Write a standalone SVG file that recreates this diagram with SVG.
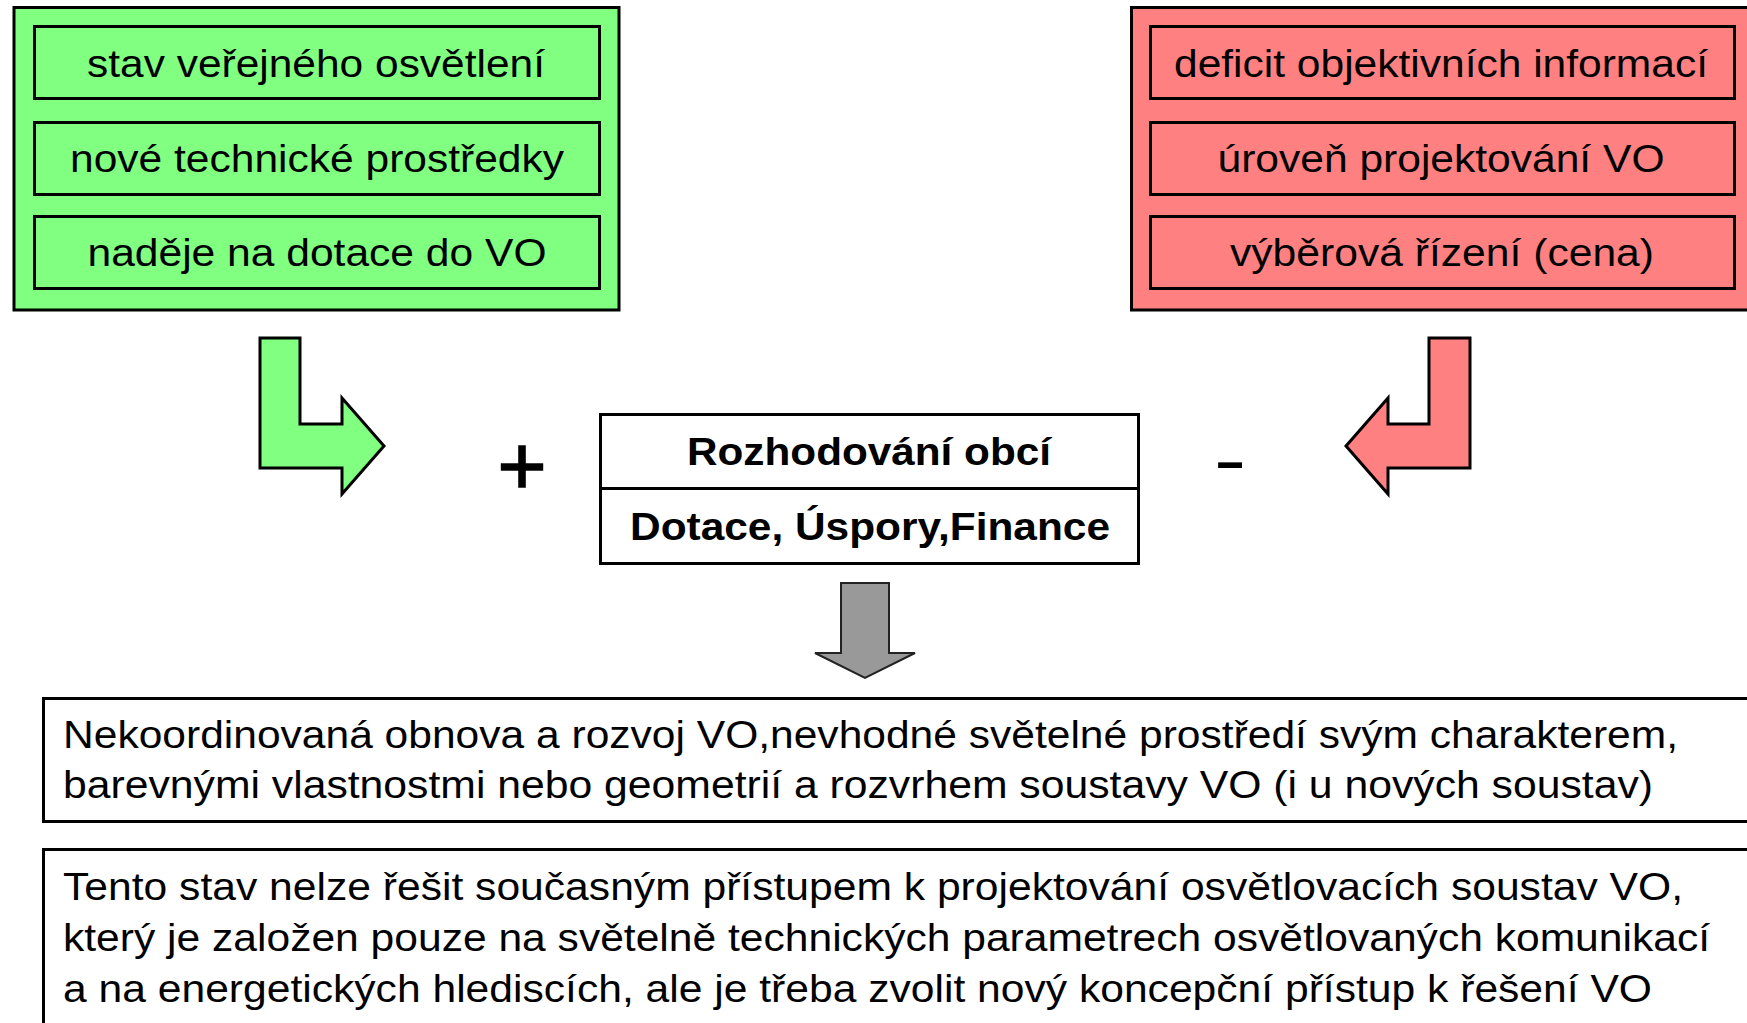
<svg xmlns="http://www.w3.org/2000/svg" width="1747" height="1023" viewBox="0 0 1747 1023">
  <style>
    text { font-family: "Liberation Sans", Arial, sans-serif; fill: #000; }
    .item { font-size: 38px; text-anchor: middle; }
    .bold { font-size: 38px; font-weight: bold; text-anchor: middle; }
    .body { font-size: 38px; }
    .box { stroke: #000; stroke-width: 3; }
    .pos { fill: #80ff80; }
    .neg { fill: #ff8080; }
    .plain { fill: #fff; }
    .arrow { stroke: #000; stroke-width: 3; stroke-linejoin: miter; }
  </style>
  <rect width="1747" height="1023" fill="#fff"/>

  <!-- positive factors -->
  <g id="positive-factors">
    <rect class="box pos" x="14" y="7.5" width="605" height="302.5"/>
    <g id="pos-1">
      <rect class="box pos" x="34.5" y="26.5" width="565" height="72"/>
      <text class="item" x="316" y="77" textLength="458" lengthAdjust="spacingAndGlyphs">stav veřejného osvětlení</text>
    </g>
    <g id="pos-2">
      <rect class="box pos" x="34.5" y="122.5" width="565" height="72"/>
      <text class="item" x="317" y="172" textLength="494" lengthAdjust="spacingAndGlyphs">nové technické prostředky</text>
    </g>
    <g id="pos-3">
      <rect class="box pos" x="34.5" y="216.5" width="565" height="72"/>
      <text class="item" x="317" y="266" textLength="459" lengthAdjust="spacingAndGlyphs">naděje na dotace do VO</text>
    </g>
  </g>

  <!-- negative factors -->
  <g id="negative-factors">
    <rect class="box neg" x="1131.5" y="7.5" width="700" height="302.5"/>
    <g id="neg-1">
      <rect class="box neg" x="1150.5" y="26.5" width="584" height="72"/>
      <text class="item" x="1441" y="77" textLength="534" lengthAdjust="spacingAndGlyphs">deficit objektivních informací</text>
    </g>
    <g id="neg-2">
      <rect class="box neg" x="1150.5" y="122.5" width="584" height="72"/>
      <text class="item" x="1441" y="172" textLength="447" lengthAdjust="spacingAndGlyphs">úroveň projektování VO</text>
    </g>
    <g id="neg-3">
      <rect class="box neg" x="1150.5" y="216.5" width="584" height="72"/>
      <text class="item" x="1442" y="266" textLength="424" lengthAdjust="spacingAndGlyphs">výběrová řízení (cena)</text>
    </g>
  </g>

  <!-- municipal decision -->
  <g id="decision">
    <rect class="box plain" x="600.5" y="414.5" width="538" height="149"/>
    <line class="box" x1="600.5" y1="488.5" x2="1138.5" y2="488.5"/>
    <text class="bold" x="869" y="465" textLength="364" lengthAdjust="spacingAndGlyphs">Rozhodování obcí</text>
    <text class="bold" x="870" y="540" textLength="480" lengthAdjust="spacingAndGlyphs">Dotace, Úspory,Finance</text>
  </g>

  <!-- influence signs -->
  <g id="signs">
    <text x="522" y="494" font-size="84" text-anchor="middle" stroke="#000" stroke-width="1.6">+</text>
    <text transform="translate(1230 484) scale(1.36 1)" x="0" y="0" font-size="72" text-anchor="middle">-</text>
  </g>

  <!-- consequence -->
  <g id="consequence">
    <rect class="box plain" x="43.5" y="698.5" width="1760" height="123"/>
    <text class="body" x="63" y="748" textLength="1615" lengthAdjust="spacingAndGlyphs">Nekoordinovaná obnova a rozvoj VO,nevhodné světelné prostředí svým charakterem,</text>
    <text class="body" x="63" y="798" textLength="1590" lengthAdjust="spacingAndGlyphs">barevnými vlastnostmi nebo geometrií a rozvrhem soustavy VO (i u nových soustav)</text>
  </g>

  <!-- conclusion -->
  <g id="conclusion">
    <rect class="box plain" x="43.5" y="849.5" width="1760" height="220"/>
    <text class="body" x="63" y="900" textLength="1620" lengthAdjust="spacingAndGlyphs">Tento stav nelze řešit současným přístupem k projektování osvětlovacích soustav VO,</text>
    <text class="body" x="63" y="951" textLength="1647" lengthAdjust="spacingAndGlyphs">který je založen pouze na světelně technických parametrech osvětlovaných komunikací</text>
    <text class="body" x="63" y="1002" textLength="1589" lengthAdjust="spacingAndGlyphs">a na energetických hlediscích, ale je třeba zvolit nový koncepční přístup k řešení VO</text>
  </g>

  <!-- block arrows -->
  <g id="connectors">
    <path class="arrow pos" d="M260,338 H300 V424 H342 V398 L384,446 L342,494 V468 H260 Z"/>
    <path class="arrow neg" d="M1470,338 H1429 V424 H1388 V398 L1346,446 L1388,494 V468 H1470 Z"/>
    <path d="M841,583 H889 V653 H915 L865,678 L815,653 H841 Z" fill="#999" stroke="#222" stroke-width="2"/>
  </g>
</svg>
